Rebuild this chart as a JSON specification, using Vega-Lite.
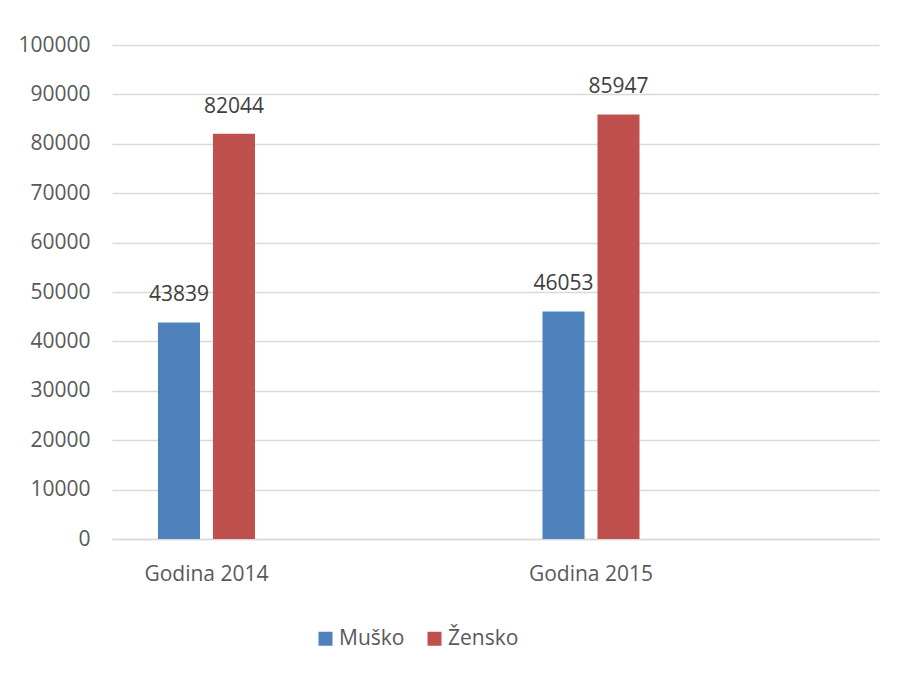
{
  "$schema": "https://vega.github.io/schema/vega-lite/v6.json",
  "width": 767,
  "height": 494,
  "autosize": {"type": "none"},
  "padding": {"left": 112, "top": 45, "right": 19, "bottom": 139},
  "background": "white",
  "config": {
    "view": {"stroke": null},
    "font": "Open Sans",
    "axis": {"labelFont": "Open Sans", "labelFontSize": 21, "labelColor": "#595959"},
    "legend": {"labelFont": "Open Sans", "labelFontSize": 21, "labelColor": "#595959"}
  },
  "data": {
    "values": [
      {"godina": "Godina 2014", "spol": "Muško", "broj": 43839},
      {"godina": "Godina 2014", "spol": "Žensko", "broj": 82044},
      {"godina": "Godina 2015", "spol": "Muško", "broj": 46053},
      {"godina": "Godina 2015", "spol": "Žensko", "broj": 85947}
    ]
  },
  "encoding": {
    "x": {
      "field": "godina",
      "type": "nominal",
      "sort": null,
      "title": null,
      "scale": {"paddingInner": 0.7477, "paddingOuter": 0.3712, "align": 0.161},
      "axis": {"labelAngle": 0, "ticks": false, "domain": true, "domainColor": "#D9D9D9", "domainWidth": 1.5, "labelPadding": 24, "grid": false}
    },
    "xOffset": {
      "field": "spol",
      "type": "nominal",
      "sort": ["Muško", "Žensko"],
      "scale": {"paddingInner": 0.236, "paddingOuter": 0}
    },
    "y": {
      "field": "broj",
      "type": "quantitative",
      "title": null,
      "scale": {"domain": [0, 100000], "nice": false},
      "axis": {"values": [0, 10000, 20000, 30000, 40000, 50000, 60000, 70000, 80000, 90000, 100000], "format": "d", "ticks": false, "domain": false, "labelPadding": 22, "grid": true, "gridColor": "#D9D9D9", "gridWidth": 1.5}
    }
  },
  "layer": [
    {
      "mark": {"type": "bar"},
      "encoding": {
        "color": {
          "field": "spol",
          "type": "nominal",
          "sort": ["Muško", "Žensko"],
          "scale": {"domain": ["Muško", "Žensko"], "range": ["#4F81BD", "#C0504D"]},
          "legend": {
            "title": null,
            "orient": "none",
            "direction": "horizontal",
            "legendX": 203,
            "legendY": 583,
            "symbolType": "square",
            "symbolSize": 196,
            "symbolStrokeWidth": 0,
            "columnPadding": 19,
            "labelOffset": 3,
            "padding": 0
          }
        }
      }
    },
    {
      "mark": {"type": "text", "baseline": "alphabetic", "dy": -21, "fontSize": 21, "color": "#404040", "font": "Open Sans"},
      "encoding": {"text": {"field": "broj", "type": "quantitative", "format": "d"}}
    }
  ]
}
